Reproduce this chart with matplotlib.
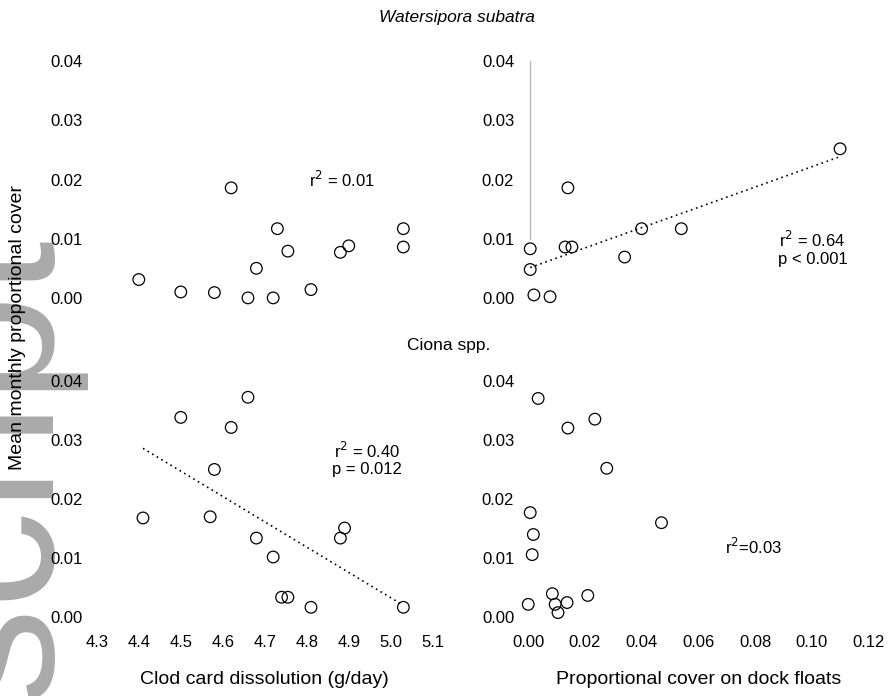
import matplotlib
matplotlib.use("Agg")
import matplotlib.pyplot as plt
import numpy as np

plt.rcParams['font.family'] = ['Liberation Sans', 'DejaVu Sans']

# Clod card dissolution vs Watersipora cover
wat_flow_x = [4.40, 4.50, 4.58, 4.66, 4.72, 4.62, 4.68, 4.73, 4.755, 4.81,
              4.88, 4.90, 5.03, 5.03]
wat_flow_y = [0.0031, 0.0010, 0.0009, 0.0000, 0.0000, 0.0186, 0.0050, 0.0117,
              0.0079, 0.0014, 0.0077, 0.0088, 0.0117, 0.0086]

# dock float cover vs Watersipora cover
wat_dock_x = [0.0007, 0.0007, 0.0020, 0.0077, 0.0130, 0.0154, 0.0140, 0.0340,
              0.0400, 0.0540, 0.1100]
wat_dock_y = [0.0083, 0.0048, 0.0005, 0.0002, 0.0086, 0.0086, 0.0186, 0.0069,
              0.0117, 0.0117, 0.0252]

# Clod card dissolution vs Ciona cover
cio_flow_x = [4.66, 4.50, 4.62, 4.58, 4.41, 4.57, 4.68, 4.72, 4.89, 4.88,
              4.74, 4.755, 4.81, 5.03]
cio_flow_y = [0.0372, 0.0338, 0.0321, 0.0250, 0.0168, 0.0170, 0.0134, 0.0102,
              0.0151, 0.0134, 0.0034, 0.0034, 0.0017, 0.0017]

# dock float cover vs Ciona cover
cio_dock_x = [0.0035, 0.0140, 0.0235, 0.0277, 0.0007, 0.0018, 0.0014, 0.0470,
              0.0000, 0.0085, 0.0095, 0.0137, 0.0210, 0.0105]
cio_dock_y = [0.0370, 0.0320, 0.0335, 0.0252, 0.0177, 0.0140, 0.0106, 0.0160,
              0.0022, 0.0040, 0.0022, 0.0025, 0.0037, 0.0008]

flow_ticks = [4.3, 4.4, 4.5, 4.6, 4.7, 4.8, 4.9, 5.0, 5.1]
dock_ticks = [0.00, 0.02, 0.04, 0.06, 0.08, 0.10, 0.12]
y_ticks = [0.00, 0.01, 0.02, 0.03, 0.04]

fig = plt.figure(figsize=(8.93, 6.96), dpi=100)

# axes boxes in figure fractions
ax_tl = fig.add_axes([0.099, 0.555, 0.395, 0.374])
ax_tr = fig.add_axes([0.582, 0.555, 0.400, 0.374])
ax_bl = fig.add_axes([0.099, 0.096, 0.395, 0.374])
ax_br = fig.add_axes([0.582, 0.096, 0.400, 0.374])


def setup(ax, xs, ys, xticks, xlim, show_x, fit=None, note=None, note_xy=None):
    ax.scatter(xs, ys, s=70, facecolors='none', edgecolors='black', linewidths=0.9, zorder=3)
    if fit:
        b, a = np.polyfit(xs, ys, 1)
        xx = np.array([min(xs), max(xs)])
        ax.plot(xx, a + b * xx, color='black', lw=1.2, linestyle=(0, (1, 2.2)))
    ax.set_xlim(*xlim)
    ax.set_ylim(-0.002, 0.042)
    ax.set_yticks(y_ticks)
    ax.set_yticklabels(['%.2f' % v for v in y_ticks])
    ax.set_xticks(xticks)
    if show_x:
        ax.set_xticklabels(['%.2f' % v if v < 1 else '%.1f' % v for v in xticks])
    else:
        ax.set_xticklabels([])
    for s in ax.spines.values():
        s.set_visible(False)
    ax.tick_params(length=0, labelsize=12, pad=4)
    if note:
        ax.text(note_xy[0], note_xy[1], note, transform=ax.transAxes,
                fontsize=12, ha='center', va='center', linespacing=1.1)


setup(ax_tl, wat_flow_x, wat_flow_y, flow_ticks, (4.28, 5.12), False,
      note='r$^2$ = 0.01', note_xy=(0.72, 0.50))
setup(ax_tr, wat_dock_x, wat_dock_y, dock_ticks, (-0.003, 0.123), False, fit=True,
      note='r$^2$ = 0.64\np < 0.001', note_xy=(0.82, 0.235))
ax_tr.axvline(0.0007, ymin=(0.01 + 0.002) / 0.044, ymax=(0.04 + 0.002) / 0.044,
              color='#bbbbbb', lw=1.0)
setup(ax_bl, cio_flow_x, cio_flow_y, flow_ticks, (4.28, 5.12), True, fit=True,
      note='r$^2$ = 0.40\np = 0.012', note_xy=(0.79, 0.655))
setup(ax_br, cio_dock_x, cio_dock_y, dock_ticks, (-0.003, 0.123), True,
      note='r$^2$=0.03', note_xy=(0.655, 0.315))

ax_bl.set_xlabel('Clod card dissolution (g/day)', fontsize=14, labelpad=15)
ax_br.set_xlabel('Proportional cover on dock floats', fontsize=14, labelpad=15)

fig.text(0.512, 0.975, 'Watersipora subatra', style='italic', fontsize=12.5,
         ha='center', va='center')
fig.text(0.502, 0.504, 'Ciona spp.', fontsize=12.5, ha='center', va='center')
fig.text(0.020, 0.53, 'Mean monthly proportional cover', rotation=90, fontsize=14,
         ha='center', va='center', zorder=5)

# grey watermark running up the left edge
fig.text(54 / 893, 1 - 240 / 696, 'Author Manuscript', rotation=90,
         rotation_mode='anchor', ha='right', va='baseline', fontsize=140,
         color='#aaaaaa', zorder=-1)

fig.savefig('out.png', dpi=100)
